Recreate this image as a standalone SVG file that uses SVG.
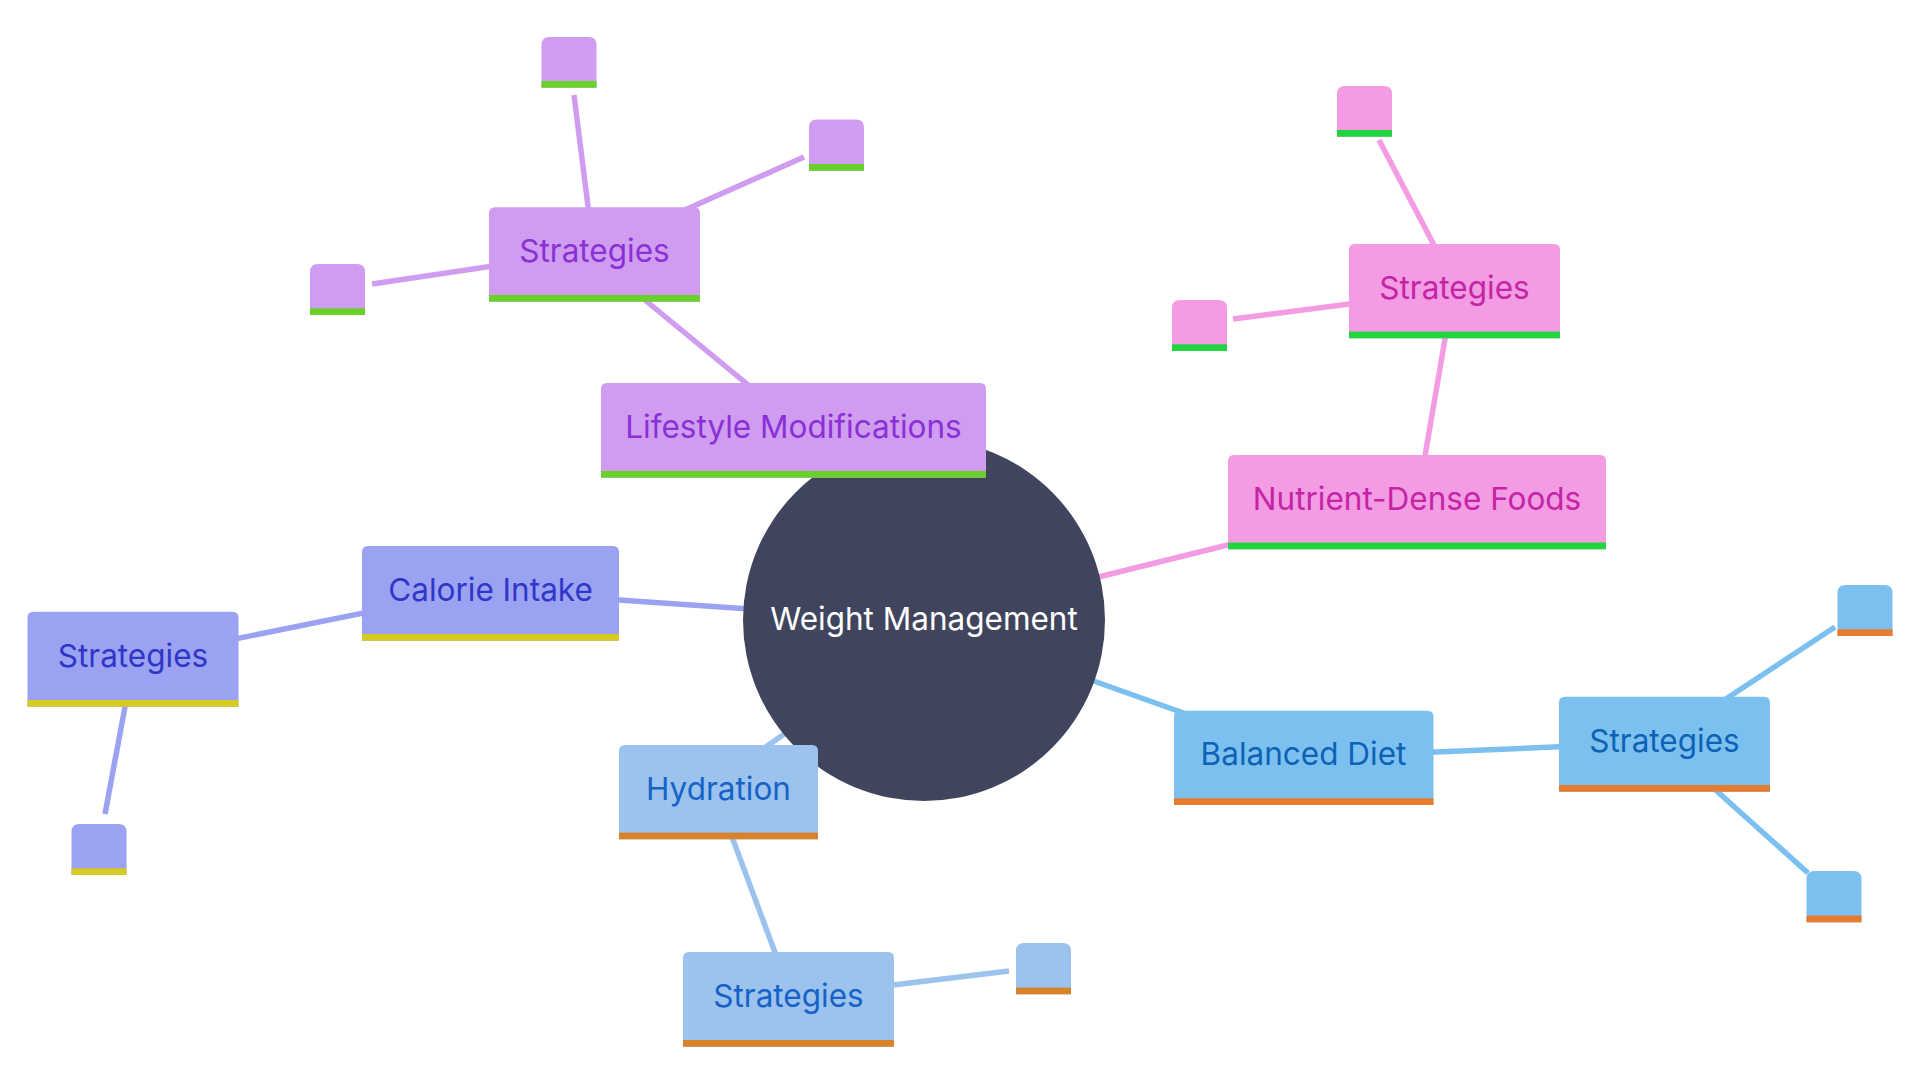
<svg xmlns="http://www.w3.org/2000/svg" width="1920" height="1080" viewBox="0 0 1920 1080">
<style>
  .t { font-family: Inter, "Noto Sans", "Liberation Sans", sans-serif; font-size: 31.5px; text-anchor: middle; }
  .e { fill: none; stroke-width: 5.5; stroke-linecap: butt; }
  .purple .box { fill: #cf9cf0; } .purple .band { fill: #68d12a; } .purple text { fill: #8a30d6; }
  .pink .box { fill: #f39be3; } .pink .band { fill: #20d53d; } .pink text { fill: #c424a5; }
  .indigo .box { fill: #9ca2f2; } .indigo .band { fill: #d6cb22; } .indigo text { fill: #2f36c8; }
  .sky .box { fill: #7cc0f0; } .sky .band { fill: #e97b2f; } .sky text { fill: #0d62b6; }
  .lblue .box { fill: #9cc2ee; } .lblue .band { fill: #d8832a; } .lblue text { fill: #1762c6; }
</style>
<rect width="1920" height="1080" fill="#ffffff"/>

<g id="connectors">
  <line class="e" stroke="#cf9cf0" x1="924" y1="619" x2="793" y2="430"/>
  <line class="e" stroke="#cf9cf0" x1="617" y1="277" x2="775" y2="407"/>
  <line class="e" stroke="#cf9cf0" x1="574" y1="95" x2="591" y2="230"/>
  <line class="e" stroke="#cf9cf0" x1="804" y1="157" x2="660" y2="221"/>
  <line class="e" stroke="#cf9cf0" x1="372" y1="284" x2="520" y2="262"/>

  <line class="e" stroke="#f39be3" x1="1050" y1="589" x2="1260" y2="537"/>
  <line class="e" stroke="#f39be3" x1="1420" y1="485" x2="1450" y2="310"/>
  <line class="e" stroke="#f39be3" x1="1379" y1="140" x2="1445" y2="266"/>
  <line class="e" stroke="#f39be3" x1="1233" y1="319" x2="1380" y2="300"/>

  <line class="e" stroke="#7cc0f0" x1="1060" y1="669" x2="1220" y2="726"/>
  <line class="e" stroke="#7cc0f0" x1="1400" y1="753.5" x2="1590" y2="745.5"/>
  <line class="e" stroke="#7cc0f0" x1="1835" y1="627" x2="1700" y2="716"/>
  <line class="e" stroke="#7cc0f0" x1="1690" y1="767" x2="1808" y2="873"/>

  <line class="e" stroke="#9ca2f2" x1="590" y1="598" x2="780" y2="611"/>
  <line class="e" stroke="#9ca2f2" x1="210" y1="644" x2="390" y2="607.6"/>
  <line class="e" stroke="#9ca2f2" x1="130" y1="680" x2="105" y2="814"/>

  <line class="e" stroke="#9cc2ee" x1="740" y1="765" x2="800" y2="723"/>
  <line class="e" stroke="#9cc2ee" x1="722" y1="810" x2="786" y2="982"/>
  <line class="e" stroke="#9cc2ee" x1="860" y1="989" x2="1009" y2="971"/>
</g>

<!-- root -->
<g id="root">
  <circle cx="924" cy="620" r="181" fill="#40455d"/>
  <text class="t" x="924" y="630" fill="#ffffff">Weight Management</text>
</g>

<!-- Lifestyle branch -->
<g id="lifestyle" class="purple">
  <path class="box" d="M601 477.7 V389 Q601 383 607 383 H980 Q986 383 986 389 V477.7 Z"/>
  <rect class="band" x="601" y="471" width="385" height="6.7"/>
  <text class="t" x="793.5" y="437.5">Lifestyle Modifications</text>
</g>
<g id="lifestyle-strategies" class="purple">
  <path class="box" d="M489 301.7 V213.3 Q489 207.3 495 207.3 H694 Q700 207.3 700 213.3 V301.7 Z"/>
  <rect class="band" x="489" y="295" width="211" height="6.7"/>
  <text class="t" x="594.5" y="261.7">Strategies</text>
</g>
<g id="lifestyle-leaf-1" class="purple">
  <path class="box" d="M541.5 87.7 V45 Q541.5 37 549.5 37 H588.5 Q596.5 37 596.5 45 V87.7 Z"/>
  <rect class="band" x="541.5" y="81" width="55" height="6.7"/>
</g>
<g id="lifestyle-leaf-2" class="purple">
  <path class="box" d="M809 170.7 V127.5 Q809 119.5 817 119.5 H856 Q864 119.5 864 127.5 V170.7 Z"/>
  <rect class="band" x="809" y="164" width="55" height="6.7"/>
</g>
<g id="lifestyle-leaf-3" class="purple">
  <path class="box" d="M310 315 V272 Q310 264 318 264 H357 Q365 264 365 272 V315 Z"/>
  <rect class="band" x="310" y="308.3" width="55" height="6.7"/>
</g>

<!-- Nutrient branch -->
<g id="nutrient" class="pink">
  <path class="box" d="M1228 549.3 V461 Q1228 455 1234 455 H1600 Q1606 455 1606 461 V549.3 Z"/>
  <rect class="band" x="1228" y="542.6" width="378" height="6.7"/>
  <text class="t" x="1417" y="509.5">Nutrient-Dense Foods</text>
</g>
<g id="nutrient-strategies" class="pink">
  <path class="box" d="M1349 338.3 V250 Q1349 244 1355 244 H1554 Q1560 244 1560 250 V338.3 Z"/>
  <rect class="band" x="1349" y="331.6" width="211" height="6.7"/>
  <text class="t" x="1454.5" y="299">Strategies</text>
</g>
<g id="nutrient-leaf-1" class="pink">
  <path class="box" d="M1337 136.7 V94 Q1337 86 1345 86 H1384 Q1392 86 1392 94 V136.7 Z"/>
  <rect class="band" x="1337" y="130" width="55" height="6.7"/>
</g>
<g id="nutrient-leaf-2" class="pink">
  <path class="box" d="M1172 351 V308 Q1172 300 1180 300 H1219 Q1227 300 1227 308 V351 Z"/>
  <rect class="band" x="1172" y="344.3" width="55" height="6.7"/>
</g>

<!-- Balanced Diet branch -->
<g id="balanced" class="sky">
  <path class="box" d="M1174 805 V716.7 Q1174 710.7 1180 710.7 H1427.5 Q1433.5 710.7 1433.5 716.7 V805 Z"/>
  <rect class="band" x="1174" y="798.3" width="259.5" height="6.7"/>
  <text class="t" x="1303.5" y="764.5">Balanced Diet</text>
</g>
<g id="balanced-strategies" class="sky">
  <path class="box" d="M1559 791.7 V702.7 Q1559 696.7 1565 696.7 H1764 Q1770 696.7 1770 702.7 V791.7 Z"/>
  <rect class="band" x="1559" y="785" width="211" height="6.7"/>
  <text class="t" x="1664.5" y="751.5">Strategies</text>
</g>
<g id="balanced-leaf-1" class="sky">
  <path class="box" d="M1837.5 636 V593 Q1837.5 585 1845.5 585 H1884.5 Q1892.5 585 1892.5 593 V636 Z"/>
  <rect class="band" x="1837.5" y="629.3" width="55" height="6.7"/>
</g>
<g id="balanced-leaf-2" class="sky">
  <path class="box" d="M1806.5 922.3 V879 Q1806.5 871 1814.5 871 H1853.5 Q1861.5 871 1861.5 879 V922.3 Z"/>
  <rect class="band" x="1806.5" y="915.6" width="55" height="6.7"/>
</g>

<!-- Calorie branch -->
<g id="calorie" class="indigo">
  <path class="box" d="M362 640.7 V552 Q362 546 368 546 H613 Q619 546 619 552 V640.7 Z"/>
  <rect class="band" x="362" y="634" width="257" height="6.7"/>
  <text class="t" x="490.5" y="601">Calorie Intake</text>
</g>
<g id="calorie-strategies" class="indigo">
  <path class="box" d="M27.5 706.7 V617.7 Q27.5 611.7 33.5 611.7 H232.5 Q238.5 611.7 238.5 617.7 V706.7 Z"/>
  <rect class="band" x="27.5" y="700" width="211" height="6.7"/>
  <text class="t" x="133" y="666.5">Strategies</text>
</g>
<g id="calorie-leaf-1" class="indigo">
  <path class="box" d="M71.5 875 V832 Q71.5 824 79.5 824 H118.5 Q126.5 824 126.5 832 V875 Z"/>
  <rect class="band" x="71.5" y="868.3" width="55" height="6.7"/>
</g>

<!-- Hydration branch -->
<g id="hydration" class="lblue">
  <path class="box" d="M619 839.3 V751 Q619 745 625 745 H812 Q818 745 818 751 V839.3 Z"/>
  <rect class="band" x="619" y="832.6" width="199" height="6.7"/>
  <text class="t" x="718.5" y="800">Hydration</text>
</g>
<g id="hydration-strategies" class="lblue">
  <path class="box" d="M683 1046.7 V958 Q683 952 689 952 H888 Q894 952 894 958 V1046.7 Z"/>
  <rect class="band" x="683" y="1040" width="211" height="6.7"/>
  <text class="t" x="788.5" y="1006.5">Strategies</text>
</g>
<g id="hydration-leaf-1" class="lblue">
  <path class="box" d="M1016 994.3 V951 Q1016 943 1024 943 H1063 Q1071 943 1071 951 V994.3 Z"/>
  <rect class="band" x="1016" y="987.6" width="55" height="6.7"/>
</g>
</svg>
